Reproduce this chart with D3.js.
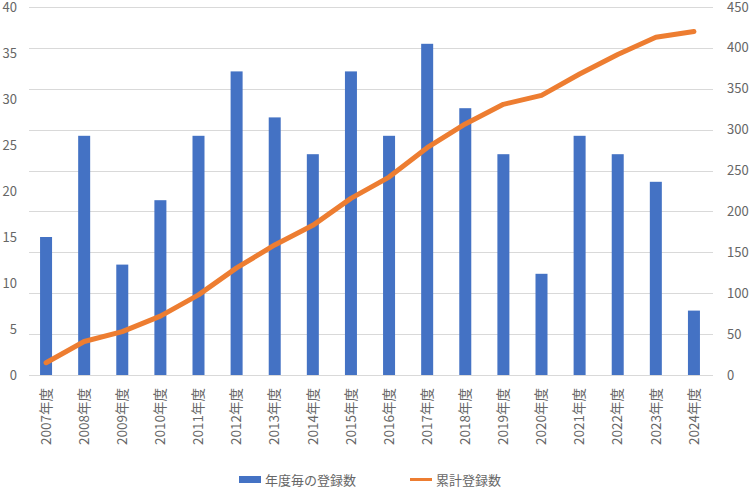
<!DOCTYPE html>
<html><head><meta charset="utf-8">
<script src="https://cdn.jsdelivr.net/npm/d3@7"></script>
<style>body{margin:0;background:#fff}svg{display:block}text{font-family:"Noto Sans CJK JP","Noto Sans",sans-serif;fill:#666666}</style>
</head><body><svg width="750" height="488"></svg>
<script>
const categories = ["2007年度","2008年度","2009年度","2010年度","2011年度","2012年度","2013年度","2014年度","2015年度","2016年度","2017年度","2018年度","2019年度","2020年度","2021年度","2022年度","2023年度","2024年度"];
const annualCounts = [15,26,12,19,26,33,28,24,33,26,36,29,24,11,26,24,21,7];
const cumulativeCounts = [15,41,53,72,98,131,159,183,216,242,278,307,331,342,368,392,413,420];
const leftTicks = [0,5,10,15,20,25,30,35,40];
const rightTicks = [0,50,100,150,200,250,300,350,400,450];
const seriesNames = ["年度毎の登録数","累計登録数"];

const svg = d3.select("svg");
const L=27, R=713, T=7, B=375;
const x = d3.scaleBand().domain(categories).range([L,R]);
const yL = d3.scaleLinear().domain([0,40]).range([B,T]);
const yR = d3.scaleLinear().domain([0,450]).range([B,T]);

// gridlines (right axis)
svg.append("g").selectAll("line").data(rightTicks.slice(1)).join("line")
  .attr("x1",L+2).attr("x2",R).attr("y1",d=>Math.round(yR(d))+0.5).attr("y2",d=>Math.round(yR(d))+0.5)
  .attr("stroke","#d9d9d9").attr("stroke-width",1);
svg.append("line").attr("x1",L+2).attr("x2",R).attr("y1",B+0.5).attr("y2",B+0.5).attr("stroke","#d9d9d9");

// bars
const bw = 12;
svg.append("g").selectAll("rect").data(annualCounts).join("rect")
  .attr("x",(d,i)=>x(categories[i])+x.bandwidth()/2-bw/2)
  .attr("y",d=>yL(d)).attr("width",bw).attr("height",d=>B-yL(d))
  .attr("fill","#4472C4");

// line
const line = d3.line().x((d,i)=>x(categories[i])+x.bandwidth()/2).y(d=>yR(d));
svg.append("path").datum(cumulativeCounts).attr("d",line).attr("fill","none")
  .attr("stroke","#ED7D31").attr("stroke-width",5).attr("stroke-linecap","round").attr("stroke-linejoin","round");

// left axis labels
svg.append("g").selectAll("text").data(leftTicks).join("text")
  .attr("x",17).attr("y",d=>yL(d)).attr("dy","0.35em").attr("text-anchor","end")
  .attr("font-size",13).text(d=>d);
// right axis labels
svg.append("g").selectAll("text").data(rightTicks).join("text")
  .attr("x",727).attr("y",d=>yR(d)).attr("dy","0.35em").attr("text-anchor","start")
  .attr("font-size",13).text(d=>d);

// x labels
svg.append("g").selectAll("text").data(categories).join("text")
  .attr("transform",d=>`translate(${x(d)+x.bandwidth()/2},388) rotate(-90)`)
  .attr("dy","0.35em").attr("text-anchor","end").attr("font-size",13.5).text(d=>d);

// legend
svg.append("rect").attr("x",239).attr("y",476).attr("width",22).attr("height",7).attr("fill","#4472C4");
svg.append("text").attr("x",265).attr("y",480).attr("dy","0.35em").attr("font-size",13).text(seriesNames[0]);
svg.append("line").attr("x1",410).attr("x2",432).attr("y1",479.5).attr("y2",479.5).attr("stroke","#ED7D31").attr("stroke-width",3);
svg.append("text").attr("x",436).attr("y",480).attr("dy","0.35em").attr("font-size",13).text(seriesNames[1]);
</script></body></html>
